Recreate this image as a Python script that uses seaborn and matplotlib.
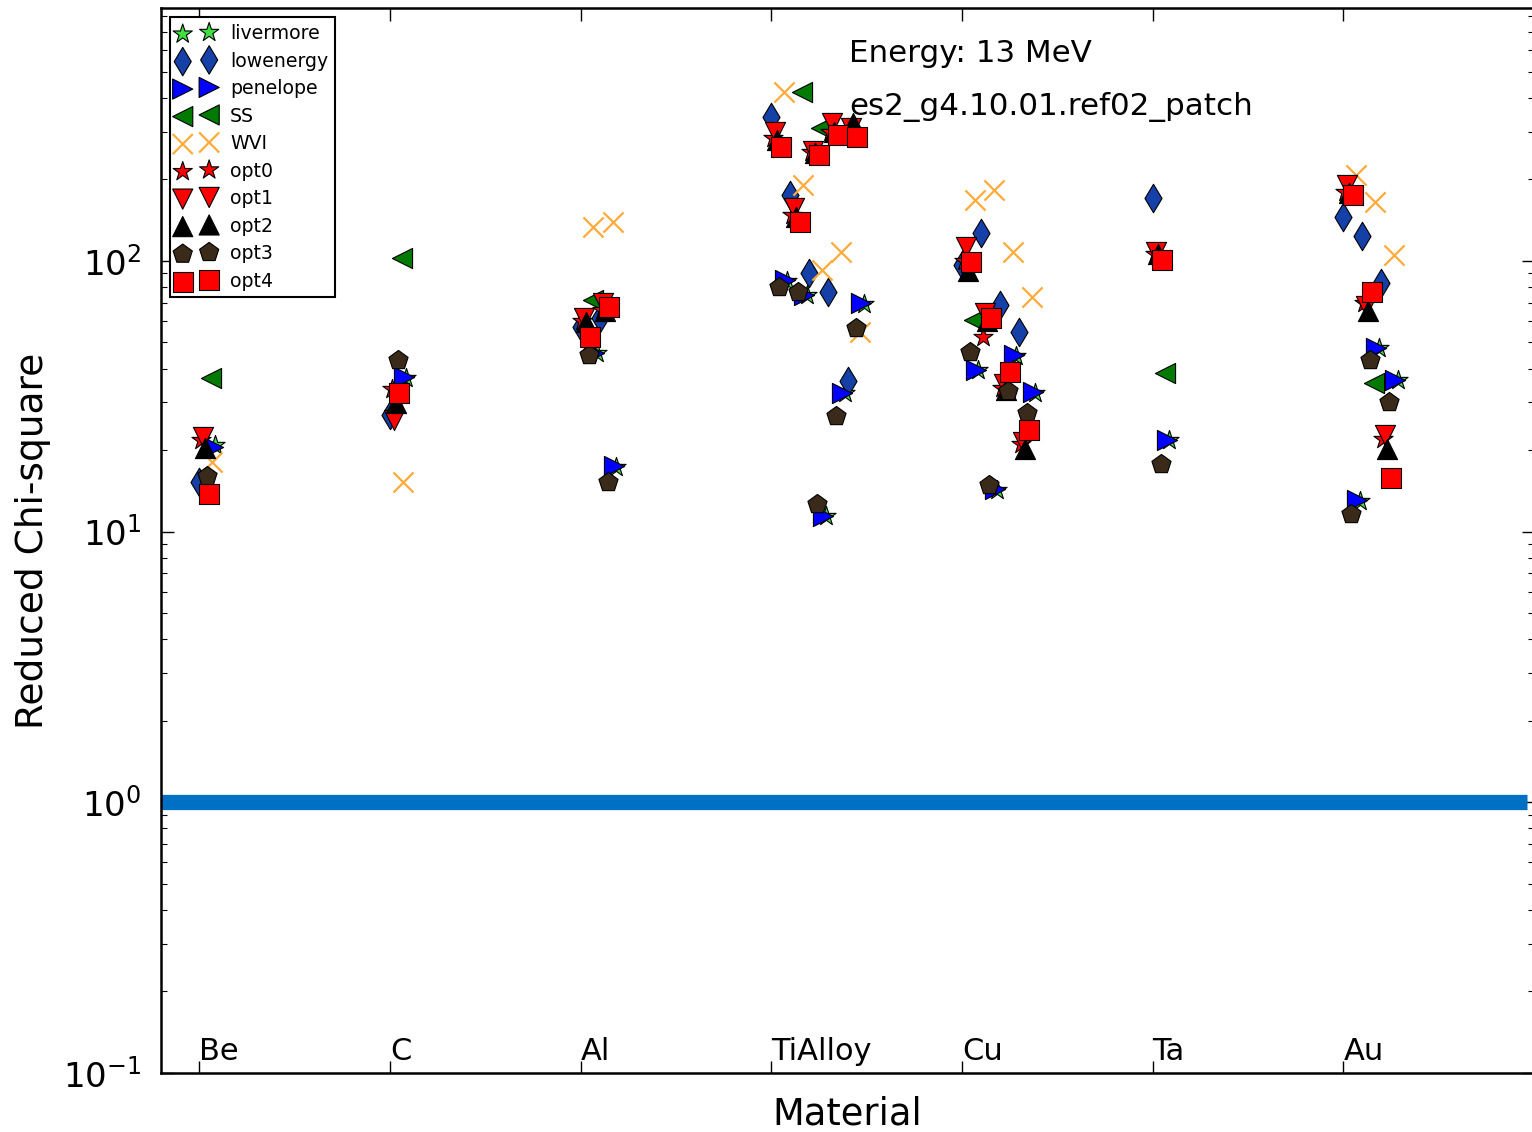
import numpy as np
import pandas as pd
import matplotlib
matplotlib.use("Agg")
import matplotlib.pyplot as plt
import seaborn as sns

materials = ["Be", "C", "Al", "TiAlloy", "Cu", "Ta", "Au"]

# measurement slots: material index and configuration number within the material
slot_material = [0, 1, 2, 2, 3, 3, 3, 3, 3, 4, 4, 4, 4, 5, 6, 6, 6]
slot_config = [0, 0, 0, 1, 0, 1, 2, 3, 4, 0, 1, 2, 3, 0, 0, 1, 2]

nan = np.nan
#            Be    C     Al0   Al1   Ti0   Ti1   Ti2   Ti3   Ti4   Cu0   Cu1   Cu2   Cu3   Ta    Au0   Au1   Au2
livermore = [20.8, 37.0, 45.5, 17.3, 84.0, 74.5, 11.4, 32.4, 69.5, 39.4, 14.2, 44.5, 32.6, 21.7, 13.0, 47.5, 36.2]
lowenergy = [15.3, 27.0, 57.0, 61.6, 340., 175., 90.3, 76.8, 35.9, 96.7, 127., 68.8, 54.7, 171., 145., 123., 83.0]
penelope = [20.6, 37.3, 45.7, 17.4, 85.0, 75.0, 11.4, 32.6, 70.0, 39.6, 14.3, 45.0, 32.8, 21.8, 13.1, 47.7, 36.4]
ss = [37.0, 102.6, 71.8, nan, nan, 421., 310., nan, nan, 60.5, nan, nan, nan, 38.6, nan, 35.5, nan]
wvi = [18.0, 15.3, 133., 139., 421., 191., 92.7, 108., 54.7, 168., 183., 108., 73.6, nan, 208., 165., 105.]
opt0 = [21.8, 33.5, 60.0, 66.0, 285., 148., 252., 300., 305., 100., 52.5, 34.0, 21.0, 106., 180., 70.0, 22.0]
opt1 = [22.4, 25.9, 61.6, 70.0, 300., 157., 255., 323., 310., 112., 64.0, 35.0, 21.5, 108., 191., 68.0, 22.8]
opt2 = [20.4, 29.9, 59.5, 65.0, 280., 145., 250., 300., 323., 92.0, 60.0, 33.4, 20.1, 106., 178., 65.0, 20.1]
opt3 = [16.0, 43.0, 45.0, 15.3, 80.2, 76.8, 12.6, 26.6, 56.6, 46.0, 14.9, 33.0, 27.5, 17.7, 11.6, 43.1, 30.2]
opt4 = [13.7, 32.6, 52.5, 67.6, 263., 139., 246., 292., 287., 99.0, 61.6, 38.9, 23.8, 101., 175., 76.9, 15.8]

series_names = ["livermore", "lowenergy", "penelope", "SS", "WVI",
                "opt0", "opt1", "opt2", "opt3", "opt4"]
series_values = [livermore, lowenergy, penelope, ss, wvi,
                 opt0, opt1, opt2, opt3, opt4]

# drawing style per series: marker, face colour, small horizontal shift
styles = {
    "livermore": ("*", "#3fe03f", 0.085),
    "lowenergy": ("d", "#1540a8", 0.0),
    "penelope": (">", "#0000ff", 0.073),
    "SS": ("<", "#007a00", 0.063),
    "WVI": ("x", "#ffab3a", 0.068),
    "opt0": ("*", "#ff0000", 0.010),
    "opt1": ("v", "#ff0000", 0.020),
    "opt2": ("^", "#000000", 0.030),
    "opt3": ("p", "#3a2a1a", 0.042),
    "opt4": ("s", "#ff0000", 0.050),
}

sns.set_style("white")
plt.rcParams["font.family"] = ["DejaVu Sans"]
plt.rcParams["mathtext.fontset"] = "dejavusans"
plt.rcParams["axes.unicode_minus"] = False
for key in ["text.color", "axes.labelcolor", "xtick.color", "ytick.color"]:
    plt.rcParams[key] = "black"

W, H = 1532, 1132
fig = plt.figure(figsize=(W / 100, H / 100), dpi=100)
ax = fig.add_axes([161 / W, 1 - 1073 / H, (1534 - 161) / W, (1073 - 8) / H])

ax.axhline(1.0, xmax=0.995, color="#0070c4", lw=11, zorder=1,
           solid_capstyle="butt")

base_x = np.array(slot_material) + 0.1 * np.array(slot_config)
msize = 14.5
for name, vals in zip(series_names, series_values):
    marker, color, shift = styles[name]
    df = pd.DataFrame({"x": base_x + shift, "chi2": vals}).dropna()
    if marker == "x":
        sns.scatterplot(data=df, x="x", y="chi2", ax=ax, marker="x",
                        color=color, s=msize ** 2, linewidth=1.6,
                        label=name, zorder=3)
    else:
        sns.scatterplot(data=df, x="x", y="chi2", ax=ax, marker=marker,
                        color=color, s=msize ** 2, edgecolor="black",
                        linewidth=0.8, label=name, zorder=3)

ax.set_yscale("log")
ax.set_ylim(0.1, 10 ** (2 + 253 / 271))
ax.set_xlim(-0.2, 7.0)

ax.set_xticks(range(len(materials)))
ax.set_xticklabels(materials, ha="left", fontsize=22)
ax.tick_params(axis="x", which="major", direction="in", top=True, bottom=True,
               length=9, width=1, pad=-26)
ax.tick_params(axis="x", which="minor", bottom=False, top=False)
ax.tick_params(axis="y", which="major", direction="in", left=True, right=True,
               length=9, width=1, labelsize=24.5, pad=14)
ax.tick_params(axis="y", which="minor", direction="in", left=True, right=True,
               length=4.5, width=0.8)

for sp in ax.spines.values():
    sp.set_linewidth(1.8)
    sp.set_color("black")

ax.set_xlabel("Material", fontsize=26.5, labelpad=16)
ax.set_ylabel("Reduced Chi-square", fontsize=27, labelpad=9)

ax.text(0.501, 0.949, "Energy: 13 MeV", transform=ax.transAxes,
        fontsize=22.3, va="baseline", ha="left")
ax.text(0.501, 0.900, "es2_g4.10.01.ref02_patch", transform=ax.transAxes,
        fontsize=22.3, va="baseline", ha="left")

leg = ax.legend(loc="upper left", scatterpoints=2, fontsize=13.6,
                frameon=True, fancybox=False, borderaxespad=0.5,
                handletextpad=0.8, labelspacing=0.45, borderpad=0.35)
leg.get_frame().set_edgecolor("black")
leg.get_frame().set_linewidth(1.5)
leg.get_frame().set_alpha(1)

fig.savefig("out.png", dpi=100)
